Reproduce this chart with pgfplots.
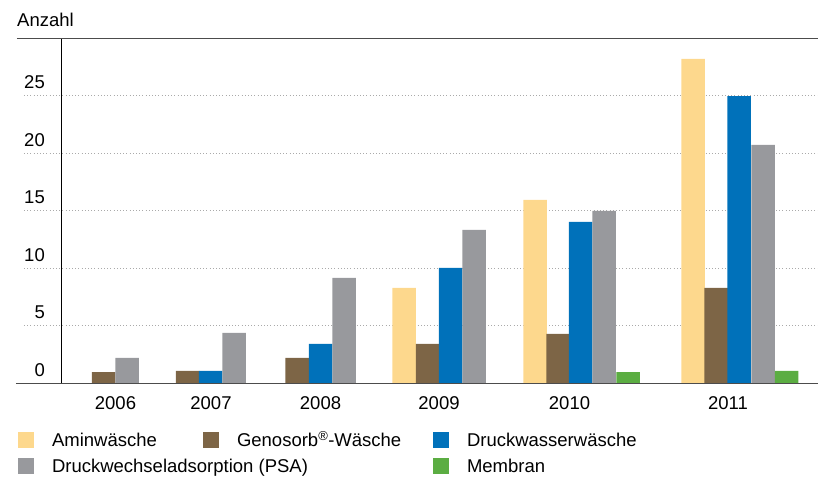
\documentclass[border=0pt]{standalone}
\usepackage{fontspec}
\setmainfont{Liberation Sans}
\usepackage{pgfplots}
\pgfplotsset{compat=1.18}
\definecolor{amin}{RGB}{253,216,141}
\definecolor{geno}{RGB}{125,101,70}
\definecolor{dww}{RGB}{0,113,186}
\definecolor{psa}{RGB}{152,153,157}
\definecolor{mem}{RGB}{91,173,66}
\definecolor{gridc}{RGB}{170,170,170}
\pgfplotsset{sq/.style={legend image code/.code={\fill[##1,draw=none] (0bp,-6bp) rectangle (16bp,10bp);}}}
\begin{document}
\begin{tikzpicture}[x=1bp,y=1bp]
\useasboundingbox (0,0) rectangle (818,481);
\begin{axis}[
  at={(61bp,97.7bp)}, anchor=south west,
  scale only axis, width=757bp, height=344.6bp,
  xmin=61, xmax=818, ymin=0, ymax=29.94,
  clip=false,
  axis line style={draw=none},
  major tick length=0pt,
  ybar, bar width=23.5, bar shift=0pt,
  ytick={0,5,10,15,20,25},
  xtick={115.5,211,320.5,439,569.5,728},
  xticklabels={2006,2007,2008,2009,2010,2011},
  /pgf/number format/assume math mode=true,
  tick label style={font=\fontsize{18.5bp}{22bp}\selectfont},
  yticklabel style={anchor=base east, inner sep=0pt, xshift=-16bp, yshift=7bp},
  xticklabel style={anchor=base, inner sep=0pt, yshift=-26bp},
  ylabel={Anzahl},
  every axis y label/.style={at={(axis description cs:-0.0581,1.034)}, anchor=base west, inner sep=0pt, font=\fontsize{18.5bp}{22bp}\selectfont},
  legend columns=3,
  legend cell align=left,
  legend style={draw=none, fill=none, inner sep=0pt, outer sep=0pt,
    at={(axis description cs:-0.0568,-0.1413)}, anchor=north west,
    font=\fontsize{18.5bp}{22bp}\selectfont,
    nodes={inner sep=0pt, text height=13bp, text depth=4bp},
    /tikz/every even column/.style={}, /tikz/every odd column/.style={},
    /tikz/column sep=0pt, /tikz/row sep=7.5bp},
]
\draw[gridc, line width=0.9bp, dash pattern=on 0.9bp off 2.3bp] (axis cs:24,5) -- (axis cs:818,5);
\draw[gridc, line width=0.9bp, dash pattern=on 0.9bp off 2.3bp] (axis cs:24,10) -- (axis cs:818,10);
\draw[gridc, line width=0.9bp, dash pattern=on 0.9bp off 2.3bp] (axis cs:24,15) -- (axis cs:818,15);
\draw[gridc, line width=0.9bp, dash pattern=on 0.9bp off 2.3bp] (axis cs:24,20) -- (axis cs:818,20);
\draw[gridc, line width=0.9bp, dash pattern=on 0.9bp off 2.3bp] (axis cs:24,25) -- (axis cs:818,25);
\addplot[fill=amin, draw=none, sq] coordinates {(404,8.28) (535,15.93) (693,28.18)};
\addlegendentry{\hspace{18bp}\makebox[151bp][l]{Aminwäsche}}
\addplot[fill=geno, draw=none, sq] coordinates {(103.5,0.98) (187.5,1.07) (297,2.2) (427.5,3.42) (558,4.29) (716,8.28)};
\addlegendentry{\hspace{18bp}\makebox[196bp][l]{Genosorb\textsuperscript{®}-Wäsche}}
\addplot[fill=dww, draw=none, sq] coordinates {(210.5,1.07) (320.5,3.42) (450.5,10.02) (580.5,14.02) (739,24.96)};
\addlegendentry{\hspace{18bp}Druckwasserwäsche}
\addplot[fill=psa, draw=none, sq] coordinates {(127,2.2) (234,4.37) (344,9.15) (474,13.32) (604,14.97) (763,20.71)};
\addlegendentry{\hspace{18bp}\makebox[151bp][l]{Druckwechseladsorption (PSA)}}
\addlegendimage{draw=none, fill=none, legend image code/.code={\path[draw=none,fill=none] (0bp,-6bp) rectangle (16bp,10bp);}}
\addlegendentry{\hspace{18bp}\makebox[196bp][l]{}}
\addplot[fill=mem, draw=none, sq] coordinates {(628,0.98) (786.5,1.07)};
\addlegendentry{\hspace{18bp}Membran}
\draw[black!70, line width=1.2bp] (axis cs:17,29.94) -- (axis cs:818,29.94);
\draw[black!70, line width=1.3bp] (axis cs:16,0) -- (axis cs:818,0);
\draw[black, line width=1bp] (axis cs:61,0) -- (axis cs:61,29.94);
\end{axis}
\end{tikzpicture}
\end{document}
